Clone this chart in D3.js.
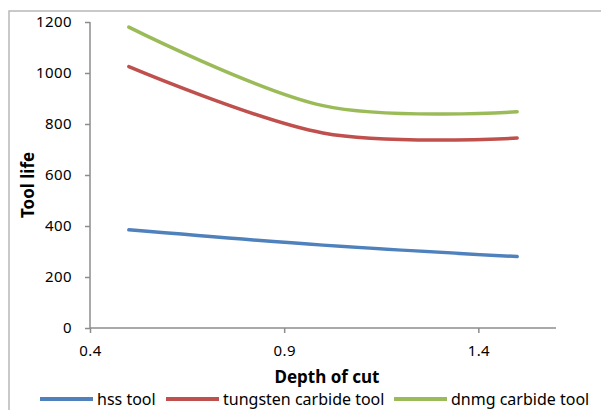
<!DOCTYPE html>
<html><head><meta charset="utf-8">
<script src="https://cdn.jsdelivr.net/npm/d3@7"></script>
<style>body{margin:0;background:#fff}svg{display:block}</style>
</head><body>
<script>
const depth = [0.5, 1.0, 1.5];
const hss = [385, 325, 280];
const tungsten = [1025, 765, 745];
const dnmg = [1180, 872, 848];
const seriesNames = ["hss tool", "tungsten carbide tool", "dnmg carbide tool"];
const seriesColors = ["#4F81BD", "#C0504D", "#9BBB59"];
const xTicks = [0.4, 0.9, 1.4];
const yTicks = [0, 200, 400, 600, 800, 1000, 1200];

const W = 601, H = 410;
const svg = d3.select("body").append("svg").attr("width", W).attr("height", H);
const font = "'Noto Sans', 'Open Sans', sans-serif";

// frame
svg.append("rect").attr("x", 9).attr("y", 11).attr("width", 620).attr("height", 430)
  .attr("fill", "none").attr("stroke", "#b8b8b8").attr("stroke-width", 1.5);

const x = d3.scaleLinear().domain([0.4, 1.6]).range([90, 556]);
const y = d3.scaleLinear().domain([0, 1200]).range([328, 22]);

// y axis
const yAxis = svg.append("g").attr("transform", "translate(90,0)")
  .call(d3.axisLeft(y).tickValues(yTicks).tickFormat(d3.format("d")).tickSize(5).tickPadding(13));
// x axis
const xAxis = svg.append("g").attr("transform", "translate(0,328)")
  .call(d3.axisBottom(x).tickValues(xTicks).tickFormat(d3.format(".1f")).tickSize(5).tickPadding(12));
[yAxis, xAxis].forEach(g => {
  g.select(".domain").attr("stroke", "#8c8c8c").attr("stroke-width", 1.5);
  g.selectAll(".tick line").attr("stroke", "#8c8c8c").attr("stroke-width", 1.5);
  g.selectAll(".tick text").attr("fill", "#000").style("font-family", font).style("font-size", "15px")
    .style("letter-spacing", "0.4px");
});
yAxis.select(".domain").attr("d", "M0,22V328");
xAxis.select(".domain").attr("d", "M90,0H556");

// lines
const seriesVals = [hss, tungsten, dnmg];
const line = d3.line().x(d => x(d[0])).y(d => y(d[1])).curve(d3.curveCardinal.tension(0));
seriesVals.forEach((vals, i) => {
  svg.append("path").datum(depth.map((d, j) => [d, vals[j]]))
    .attr("d", line).attr("fill", "none").attr("stroke", seriesColors[i])
    .attr("stroke-width", 3.5).attr("stroke-linecap", "round");
});

// axis titles
svg.append("text").attr("x", 327).attr("y", 383).attr("text-anchor", "middle")
  .style("font-family", font).style("font-size", "17px").style("font-weight", "bold").text("Depth of cut");
svg.append("text").attr("transform", "translate(34,185) rotate(-90)").attr("text-anchor", "middle")
  .style("font-family", font).style("font-size", "17px").style("font-weight", "bold").text("Tool life");

// legend
const legX = [40, 166, 394];
seriesNames.forEach((n, i) => {
  svg.append("line").attr("x1", legX[i]).attr("x2", legX[i] + 53).attr("y1", 399).attr("y2", 399)
    .attr("stroke", seriesColors[i]).attr("stroke-width", 4);
  svg.append("text").attr("x", legX[i] + 57).attr("y", 405)
    .style("font-family", font).style("font-size", "16px").text(n);
});
</script>
</body></html>
